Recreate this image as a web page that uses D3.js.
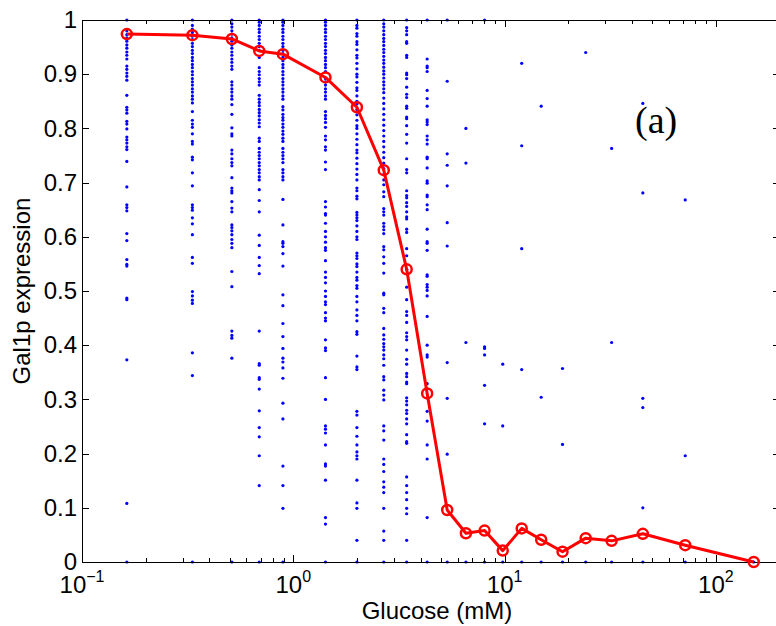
<!DOCTYPE html>
<html>
<head>
<meta charset="utf-8">
<script src="https://cdn.jsdelivr.net/npm/d3@7"></script>
<style>
    body { margin: 0; background: #fff; }
    svg { display: block; }
    .axis path, .axis line { stroke: #000; shape-rendering: crispEdges; }
    text { font-family: "Liberation Sans", Arial, Helvetica, sans-serif; fill: #000; }
</style>
</head>
<body>
<div id="chart"></div>
<script>
// glucose levels (mM), one column of cells per level
var glucose = [0.163, 0.333, 0.512, 0.69, 0.893, 1.42, 2.0, 2.68, 3.44, 4.3, 5.35,
               6.56, 8.04, 9.8, 12.05, 14.9, 18.8, 24.2, 32.1, 45.1, 71.6, 151];

// mean Gal1p expression per glucose level (red curve)
var meanExpr = [0.974, 0.972, 0.965, 0.943, 0.937, 0.894, 0.839, 0.723, 0.540, 0.311, 0.096,
                0.053, 0.058, 0.021, 0.062, 0.041, 0.019, 0.044, 0.039, 0.052, 0.031, 0.0];

// single-cell expression values, same order as glucose
var cellExpr = [
    [1, 0.980, 0.973, 0.967, 0.961, 0.954, 0.948, 0.941, 0.935, 0.928, 0.915, 0.909, 0.902, 0.896, 0.889,
     0.861, 0.839, 0.834, 0.828, 0.813, 0.808, 0.799, 0.784, 0.779, 0.773, 0.766, 0.761, 0.739, 0.692,
     0.659, 0.654, 0.648, 0.606, 0.593, 0.558, 0.549, 0.546, 0.487, 0.484, 0.373, 0.108, 0],
    [1, 0.990, 0.983, 0.977, 0.970, 0.964, 0.957, 0.951, 0.944, 0.938, 0.931, 0.925, 0.918, 0.912, 0.905,
     0.899, 0.892, 0.886, 0.880, 0.873, 0.867, 0.860, 0.854, 0.847, 0.831, 0.815, 0.808, 0.802, 0.790,
     0.776, 0.771, 0.747, 0.742, 0.718, 0.694, 0.659, 0.654, 0.649, 0.635, 0.624, 0.604, 0.562, 0.551,
     0.499, 0.491, 0.483, 0.477, 0.386, 0.344, 0],
    [1, 0.993, 0.987, 0.980, 0.974, 0.967, 0.961, 0.954, 0.948, 0.941, 0.935, 0.928, 0.922, 0.915, 0.909,
     0.886, 0.880, 0.873, 0.867, 0.860, 0.854, 0.844, 0.826, 0.801, 0.790, 0.786, 0.760, 0.753, 0.744,
     0.737, 0.731, 0.709, 0.690, 0.685, 0.681, 0.665, 0.653, 0.646, 0.622, 0.617, 0.611, 0.604, 0.595,
     0.588, 0.580, 0.536, 0.508, 0.426, 0.418, 0.413, 0.376, 0],
    [1, 0.996, 0.990, 0.983, 0.977, 0.970, 0.964, 0.957, 0.951, 0.944, 0.931, 0.912, 0.905, 0.899, 0.892,
     0.886, 0.880, 0.861, 0.854, 0.848, 0.842, 0.835, 0.829, 0.823, 0.816, 0.810, 0.803, 0.782, 0.776,
     0.763, 0.756, 0.750, 0.744, 0.737, 0.731, 0.724, 0.718, 0.711, 0.705, 0.687, 0.667, 0.646, 0.603,
     0.584, 0.562, 0.547, 0.532, 0.426, 0.366, 0.363, 0.340, 0.337, 0.319, 0.279, 0.248, 0.231, 0.196,
     0.141, 0],
    [1, 0.996, 0.990, 0.983, 0.977, 0.970, 0.964, 0.957, 0.951, 0.944, 0.938, 0.931, 0.925, 0.918, 0.912,
     0.905, 0.899, 0.892, 0.886, 0.880, 0.873, 0.867, 0.860, 0.854, 0.840, 0.834, 0.826, 0.820, 0.815,
     0.808, 0.802, 0.795, 0.789, 0.782, 0.776, 0.763, 0.756, 0.750, 0.744, 0.737, 0.724, 0.718, 0.711,
     0.705, 0.669, 0.622, 0.591, 0.588, 0.582, 0.569, 0.546, 0.493, 0.473, 0.440, 0.416, 0.394, 0.376,
     0.369, 0.358, 0.339, 0.293, 0.264, 0.177, 0.141, 0.099, 0],
    [1, 0.996, 0.990, 0.983, 0.977, 0.970, 0.964, 0.957, 0.951, 0.944, 0.938, 0.931, 0.925, 0.918, 0.912,
     0.905, 0.892, 0.886, 0.880, 0.873, 0.867, 0.860, 0.854, 0.831, 0.824, 0.818, 0.811, 0.802, 0.786,
     0.779, 0.766, 0.760, 0.738, 0.724, 0.665, 0.655, 0.643, 0.640, 0.625, 0.610, 0.600, 0.590, 0.580,
     0.575, 0.556, 0.535, 0.525, 0.515, 0.500, 0.490, 0.480, 0.475, 0.460, 0.450, 0.445, 0.410, 0.395,
     0.390, 0.340, 0.300, 0.251, 0.245, 0.238, 0.216, 0.181, 0.177, 0.151, 0.082, 0.070, 0],
    [1, 0.990, 0.985, 0.975, 0.970, 0.960, 0.955, 0.945, 0.935, 0.930, 0.920, 0.910, 0.900, 0.895, 0.885,
     0.875, 0.870, 0.860, 0.850, 0.845, 0.835, 0.825, 0.815, 0.805, 0.800, 0.790, 0.780, 0.770, 0.760,
     0.755, 0.745, 0.735, 0.725, 0.715, 0.705, 0.690, 0.685, 0.675, 0.670, 0.645, 0.640, 0.635, 0.630,
     0.620, 0.610, 0.600, 0.595, 0.570, 0.565, 0.560, 0.550, 0.545, 0.535, 0.525, 0.520, 0.510, 0.505,
     0.490, 0.480, 0.465, 0.455, 0.445, 0.425, 0.420, 0.380, 0.360, 0.355, 0.278, 0.271, 0.248, 0.232,
     0.216, 0.203, 0.196, 0.190, 0.151, 0.109, 0.099, 0.040, 0],
    [1, 0.993, 0.987, 0.980, 0.973, 0.966, 0.960, 0.953, 0.946, 0.940, 0.933, 0.926, 0.920, 0.913, 0.906,
     0.900, 0.893, 0.886, 0.880, 0.873, 0.866, 0.856, 0.846, 0.836, 0.826, 0.816, 0.806, 0.796, 0.786,
     0.776, 0.766, 0.756, 0.746, 0.736, 0.726, 0.715, 0.705, 0.696, 0.683, 0.674, 0.652, 0.646, 0.640,
     0.625, 0.619, 0.613, 0.606, 0.582, 0.576, 0.563, 0.551, 0.533, 0.496, 0.493, 0.468, 0.460, 0.431,
     0.419, 0.411, 0.403, 0.397, 0.391, 0.382, 0.375, 0.363, 0.342, 0.336, 0.317, 0.308, 0.299, 0.251,
     0.242, 0.225, 0.190, 0.180, 0.167, 0.148, 0.138, 0.128, 0.099, 0.057, 0.040, 0],
    [1, 0.986, 0.980, 0.973, 0.960, 0.957, 0.935, 0.931, 0.902, 0.899, 0.892, 0.876, 0.863, 0.857, 0.841,
     0.837, 0.821, 0.818, 0.805, 0.789, 0.773, 0.744, 0.724, 0.718, 0.685, 0.676, 0.672, 0.663, 0.656,
     0.646, 0.637, 0.633, 0.614, 0.608, 0.578, 0.565, 0.540, 0.507, 0.484, 0.462, 0.455, 0.442, 0.423,
     0.416, 0.410, 0.391, 0.374, 0.365, 0.348, 0.342, 0.332, 0.329, 0.303, 0.297, 0.290, 0.280, 0.274,
     0.264, 0.255, 0.235, 0.222, 0.219, 0.157, 0.141, 0.128, 0.115, 0.099, 0.089, 0.040, 0],
    [1, 0.928, 0.915, 0.912, 0.905, 0.870, 0.855, 0.841, 0.816, 0.812, 0.807, 0.786, 0.779, 0.771, 0.747,
     0.744, 0.727, 0.703, 0.699, 0.677, 0.674, 0.659, 0.650, 0.614, 0.591, 0.588, 0.575, 0.530, 0.527,
     0.512, 0.507, 0.501, 0.491, 0.453, 0.400, 0.382, 0.378, 0.329, 0.278, 0.260, 0.216, 0.190, 0.082, 0],
    [1, 0.887, 0.753, 0.732, 0.694, 0.626, 0.583, 0.368, 0.302, 0.199, 0],
    [0.800, 0.736, 0.405, 0],
    [1, 0.397, 0.394, 0.382, 0.326, 0.255, 0],
    [0.365, 0.251, 0],
    [0.920, 0.768, 0.578, 0.355, 0],
    [0.841, 0.304, 0],
    [0.357, 0.217, 0],
    [0.940, 0],
    [0.763, 0.405, 0],
    [0.846, 0.681, 0.302, 0.285, 0.100, 0],
    [0.668, 0.196, 0],
    [0]
];

var xMajor = [0.1, 1, 10, 100];
var xExponents = ["\u22121", "0", "1", "2"];
var xMinor = [0.2, 0.3, 0.4, 0.5, 0.6, 0.7, 0.8, 0.9, 2, 3, 4, 5, 6, 7, 8, 9,
              20, 30, 40, 50, 60, 70, 80, 90, 200];
var yTicks = [0, 0.1, 0.2, 0.3, 0.4, 0.5, 0.6, 0.7, 0.8, 0.9, 1];
var yTickLabels = ["0", "0.1", "0.2", "0.3", "0.4", "0.5", "0.6", "0.7", "0.8", "0.9", "1"];

var margin = {top: 20, right: 0, bottom: 64, left: 82},
        width = 697.5,
        height = 542;

var x = d3.scaleLog()
        .domain([0.1, 200])
        .range([0, width]);

var y = d3.scaleLinear()
        .domain([0, 1])
        .range([height, 0]);

var svg = d3.select("#chart").append("svg")
        .attr("width", 776)
        .attr("height", 626)
        .append("g")
        .attr("transform", "translate(" + margin.left + "," + margin.top + ")");

// flatten columns into points
var points = [];
glucose.forEach(function(g, i) {
    cellExpr[i].forEach(function(v) { points.push({g: g, v: v}); });
});

svg.append("g")
        .attr("class", "cells")
        .selectAll("circle")
        .data(points)
        .enter().append("circle")
        .attr("cx", function(d) { return x(d.g); })
        .attr("cy", function(d) { return y(d.v); })
        .attr("r", 1.6)
        .attr("fill", "#0000ff");

// axes, MATLAB style: box with inward ticks on all four sides
svg.append("g").attr("class", "x axis")
        .attr("transform", "translate(0," + height + ")")
        .call(d3.axisBottom(x).tickValues(xMajor).tickSize(-7).tickFormat(""));
svg.append("g").attr("class", "x axis minor")
        .attr("transform", "translate(0," + height + ")")
        .call(d3.axisBottom(x).tickValues(xMinor).tickSize(-4).tickFormat(""));
svg.append("g").attr("class", "x axis top")
        .call(d3.axisTop(x).tickValues(xMajor).tickSize(-7).tickFormat(""));
svg.append("g").attr("class", "x axis top minor")
        .call(d3.axisTop(x).tickValues(xMinor).tickSize(-4).tickFormat(""));

svg.append("g").attr("class", "y axis")
        .call(d3.axisLeft(y).tickValues(yTicks).tickSize(-7).tickPadding(5)
                .tickFormat(function(d, i) { return yTickLabels[i]; }));
svg.append("g").attr("class", "y axis right")
        .attr("transform", "translate(" + width + ",0)")
        .call(d3.axisRight(y).tickValues(yTicks).tickSize(-7).tickFormat(""));

svg.selectAll(".axis path").attr("stroke-width", 1.2);
svg.selectAll(".y.axis text").style("font-size", "24px");

// decade labels with superscripts
var xLabels = svg.append("g").attr("class", "x labels")
        .selectAll("text")
        .data(xMajor)
        .enter().append("text")
        .attr("x", function(d) { return x(d); })
        .attr("y", height + 31)
        .attr("text-anchor", "middle")
        .style("font-size", "24px");
xLabels.append("tspan").text("10");
xLabels.append("tspan")
        .attr("dy", -11)
        .style("font-size", "16px")
        .text(function(d, i) { return xExponents[i]; });

// mean curve
var line = d3.line()
        .x(function(d, i) { return x(glucose[i]); })
        .y(function(d) { return y(d); });

svg.append("path")
        .datum(meanExpr)
        .attr("d", line)
        .attr("fill", "none")
        .attr("stroke", "#ff0000")
        .attr("stroke-width", 3)
        .attr("stroke-linejoin", "round");

svg.append("g")
        .attr("class", "means")
        .selectAll("circle")
        .data(meanExpr)
        .enter().append("circle")
        .attr("cx", function(d, i) { return x(glucose[i]); })
        .attr("cy", function(d) { return y(d); })
        .attr("r", 5)
        .attr("fill", "none")
        .attr("stroke", "#ff0000")
        .attr("stroke-width", 2.5);

// titles
svg.append("text")
        .attr("x", (776 - margin.left) / 2 + 8)
        .attr("y", height + 57)
        .attr("text-anchor", "middle")
        .style("font-size", "24px")
        .text("Glucose (mM)");

svg.append("text")
        .attr("transform", "translate(" + (30 - margin.left) + "," + (height / 2) + ") rotate(-90)")
        .attr("text-anchor", "middle")
        .style("font-size", "24px")
        .text("Gal1p expression");

svg.append("text")
        .attr("x", 635 - margin.left)
        .attr("y", 133 - margin.top)
        .style("font-family", "'Liberation Serif', 'Times New Roman', serif")
        .style("font-size", "38px")
        .text("(a)");
</script>
</body>
</html>
